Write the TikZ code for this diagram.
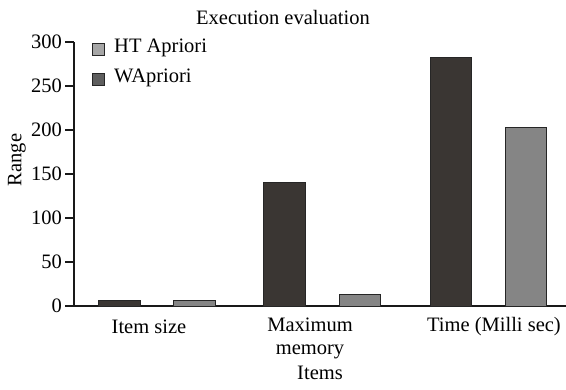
\documentclass[tikz,border=0pt]{standalone}
\usepackage{fontspec}
\setmainfont{Liberation Serif}
\definecolor{bardark}{HTML}{3A3633}
\definecolor{bargray}{HTML}{858585}
\definecolor{legdark}{HTML}{5E5E5E}
\definecolor{leglight}{HTML}{A6A6A6}
\begin{document}
\begin{tikzpicture}[x=1pt,y=-1pt,
  lbl/.style={font=\fontsize{20.5}{23}\selectfont, inner sep=0pt},
  axisline/.style={line width=1.4pt, black!90},
  bar/.style={draw=black!85, line width=0.9pt},
  legbox/.style={draw=black!85, line width=0.9pt}]
\useasboundingbox (0,0) rectangle (566,389);
% axes
\draw[axisline] (74,42) -- (74,306) -- (566,306);
\foreach \v in {0,50,...,300}{
  \draw[axisline] (65,{306-0.88*\v}) -- (74,{306-0.88*\v});
  \node[lbl, anchor=east] (t\v) at (62,{306-0.88*\v}) {\v};
}
% bars
\filldraw[bar, fill=bardark] (98,306) rectangle (140,{306-0.88*6});
\filldraw[bar, fill=bargray] (173,306) rectangle (215,{306-0.88*6});
\filldraw[bar, fill=bardark] (263,306) rectangle (305,{306-0.88*140});
\filldraw[bar, fill=bargray] (339,306) rectangle (380,{306-0.88*13});
\filldraw[bar, fill=bardark] (430,306) rectangle (471,{306-0.88*282});
\filldraw[bar, fill=bargray] (505,306) rectangle (546,{306-0.88*203});
% legend
\filldraw[legbox, fill=leglight] (92,43) rectangle (104,55);
\node[lbl, anchor=west] (lg1) at (114,48) {HT Apriori};
\filldraw[legbox, fill=legdark] (92,73) rectangle (104,85);
\node[lbl, anchor=west] (lg2) at (114,78) {WApriori};
% labels
\node[lbl] (title) at (283,17) {Execution evaluation};
\node[lbl] (c1) at (149,327) {Item size};
\node[lbl, align=center] (c2) at (310,338) {Maximum\\memory};
\node[lbl] (c3) at (494,327) {Time (Milli sec)};
\node[lbl] (xl) at (320,373) {Items};
\node[lbl, rotate=90] (yl) at (17,160) {Range};
\end{tikzpicture}
\end{document}
